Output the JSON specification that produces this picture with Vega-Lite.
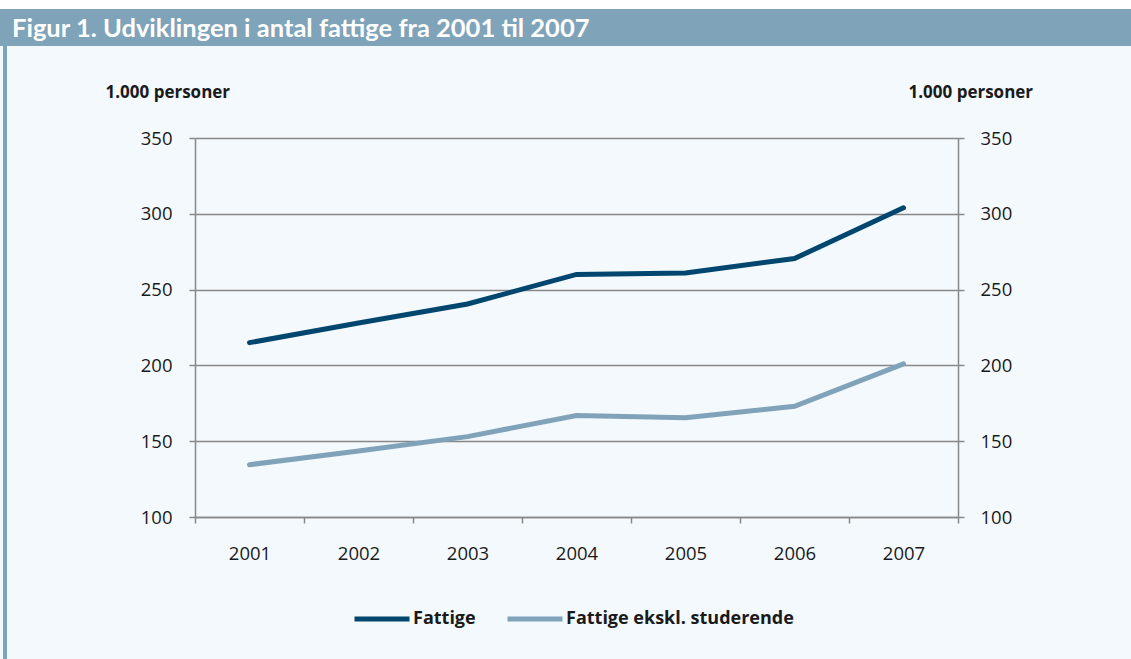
{
  "$schema": "https://vega.github.io/schema/vega-lite/v6.json",
  "background": "#f3f9fd",
  "padding": 0,
  "spacing": 0,
  "bounds": "flush",
  "config": {
    "font": "Open Sans",
    "view": {"stroke": null},
    "axis": {"labelFont": "Open Sans", "titleFont": "Open Sans"},
    "legend": {"labelFont": "Open Sans"}
  },
  "vconcat": [
    {
      "width": 1131,
      "height": 9,
      "view": {"fill": "#ffffff", "stroke": null},
      "data": {"values": []},
      "mark": "rect",
      "encoding": {}
    },
    {
      "width": 1131,
      "height": 37,
      "view": {"fill": "#7fa3b9", "stroke": null},
      "data": {"values": [{"title": "Figur 1. Udviklingen i antal fattige fra 2001 til 2007"}]},
      "mark": {"type": "text", "align": "left", "baseline": "middle", "font": "Lato", "fontWeight": "bold", "fontSize": 25.5, "color": "#ffffff", "dx": 12, "dy": 1},
      "encoding": {
        "text": {"field": "title"},
        "x": {"datum": 0, "type": "quantitative", "scale": {"domain": [0, 1]}, "axis": null}
      }
    },
    {
      "hconcat": [
        {
          "hconcat": [
            {
              "width": 3,
              "height": 613,
              "data": {"values": []},
              "mark": "rect",
              "encoding": {}
            },
            {
              "width": 4,
              "height": 613,
              "view": {"fill": "#7fa3b9", "stroke": null},
              "data": {"values": []},
              "mark": "rect",
              "encoding": {}
            }
          ],
          "spacing": 0,
          "bounds": "flush"
        },
        {
          "vconcat": [
            {
              "width": 763,
              "height": 92,
              "data": {"values": []},
              "mark": "rect",
              "encoding": {}
            },
            {
              "width": 763,
              "height": 379,
              "data": {
                "values": [
                  {"year": "2001", "series": "Fattige", "value": 215},
                  {"year": "2002", "series": "Fattige", "value": 228},
                  {"year": "2003", "series": "Fattige", "value": 240.5},
                  {"year": "2004", "series": "Fattige", "value": 260},
                  {"year": "2005", "series": "Fattige", "value": 261},
                  {"year": "2006", "series": "Fattige", "value": 270.5},
                  {"year": "2007", "series": "Fattige", "value": 304},
                  {"year": "2001", "series": "Fattige ekskl. studerende", "value": 134.5},
                  {"year": "2002", "series": "Fattige ekskl. studerende", "value": 143.5},
                  {"year": "2003", "series": "Fattige ekskl. studerende", "value": 153},
                  {"year": "2004", "series": "Fattige ekskl. studerende", "value": 167},
                  {"year": "2005", "series": "Fattige ekskl. studerende", "value": 165.5},
                  {"year": "2006", "series": "Fattige ekskl. studerende", "value": 173},
                  {"year": "2007", "series": "Fattige ekskl. studerende", "value": 201}
                ]
              },
              "layer": [
                {
                  "mark": {"type": "line", "strokeWidth": 5, "strokeCap": "round", "strokeJoin": "miter"},
                  "encoding": {
                    "x": {
                      "field": "year",
                      "type": "ordinal",
                      "bandPosition": 0.5,
                      "scale": {"type": "band", "paddingInner": 0, "paddingOuter": 0},
                      "axis": {
                        "title": null,
                        "labelAngle": 0,
                        "labelFontSize": 18.5,
                        "labelColor": "#1a1a1a",
                        "labelPadding": 21,
                        "domainColor": "#888888",
                        "domainWidth": 1.5,
                        "tickColor": "#888888",
                        "tickWidth": 1.5,
                        "tickSize": 6,
                        "tickBand": "extent",
                        "grid": false
                      }
                    },
                    "y": {
                      "field": "value",
                      "type": "quantitative",
                      "scale": {"domain": [100, 350], "nice": false, "zero": false},
                      "axis": {
                        "values": [100, 150, 200, 250, 300, 350],
                        "title": "1.000 personer",
                        "titleAngle": 0,
                        "titleAlign": "left",
                        "titleBaseline": "middle",
                        "titleX": -90,
                        "titleY": -46,
                        "titleFontSize": 17,
                        "titleFontWeight": "bold",
                        "titleColor": "#1a1a1a",
                        "labelFontSize": 18.5,
                        "labelColor": "#1a1a1a",
                        "labelPadding": 17,
                        "domainColor": "#888888",
                        "domainWidth": 1.5,
                        "tickColor": "#888888",
                        "tickWidth": 1.5,
                        "tickSize": 6,
                        "grid": true,
                        "gridColor": "#888888",
                        "gridWidth": 1.5,
                        "gridOpacity": 1
                      }
                    },
                    "color": {
                      "field": "series",
                      "type": "nominal",
                      "scale": {"domain": ["Fattige", "Fattige ekskl. studerende"], "range": ["#00466e", "#80a3ba"]},
                      "legend": {
                        "title": null,
                        "orient": "none",
                        "direction": "horizontal",
                        "legendX": 352,
                        "legendY": 589,
                        "symbolType": "stroke",
                        "symbolSize": 3025,
                        "symbolStrokeWidth": 5,
                        "labelFontSize": 18,
                        "labelFontWeight": "bold",
                        "labelColor": "#1a1a1a",
                        "labelOffset": 1,
                        "labelLimit": 400,
                        "columnPadding": 21
                      }
                    }
                  }
                },
                {
                  "mark": {"type": "line", "opacity": 0},
                  "encoding": {
                    "x": {"field": "year", "type": "ordinal", "bandPosition": 0.5},
                    "detail": {"field": "series"},
                    "y": {
                      "field": "value",
                      "type": "quantitative",
                      "scale": {"domain": [100, 350], "nice": false, "zero": false},
                      "axis": {
                        "orient": "right",
                        "values": [100, 150, 200, 250, 300, 350],
                        "title": "1.000 personer",
                        "titleAngle": 0,
                        "titleAlign": "left",
                        "titleBaseline": "middle",
                        "titleX": -50,
                        "titleY": -46,
                        "titleFontSize": 17,
                        "titleFontWeight": "bold",
                        "titleColor": "#1a1a1a",
                        "labelFontSize": 18.5,
                        "labelColor": "#1a1a1a",
                        "labelPadding": 16,
                        "domainColor": "#888888",
                        "domainWidth": 1.5,
                        "tickColor": "#888888",
                        "tickWidth": 1.5,
                        "tickSize": 6,
                        "grid": false
                      }
                    }
                  }
                }
              ],
              "resolve": {"scale": {"y": "independent"}}
            }
          ],
          "spacing": 0,
          "bounds": "flush"
        }
      ],
      "spacing": 195,
      "bounds": "flush"
    }
  ]
}
